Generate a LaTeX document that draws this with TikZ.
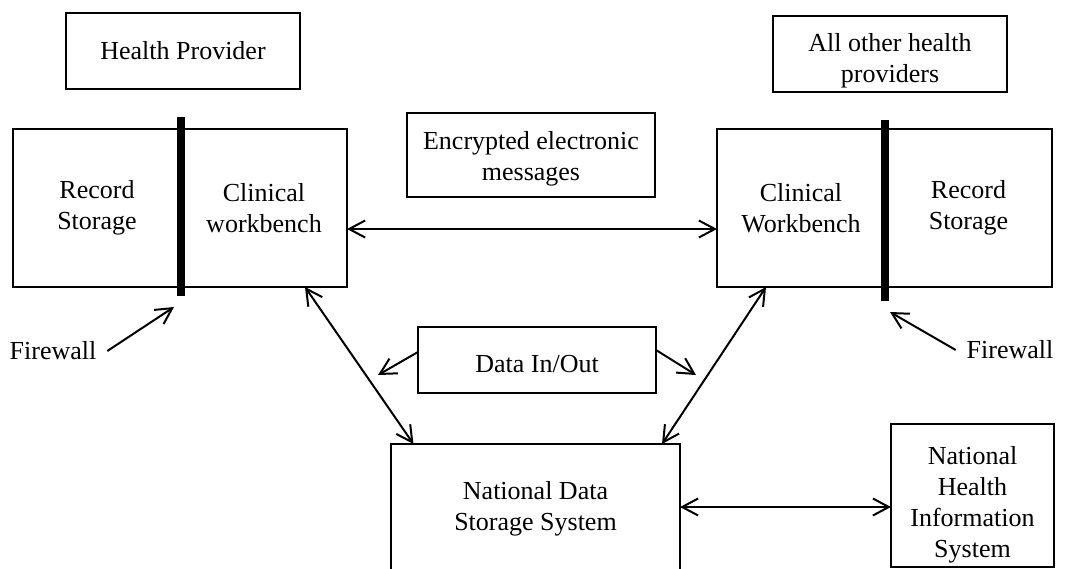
\documentclass[tikz,border=0pt]{standalone}
\usepackage{fontspec}
\setmainfont{Liberation Serif}
\usetikzlibrary{arrows.meta,positioning}

\begin{document}
\begin{tikzpicture}[x=1pt,y=-1pt,line width=2pt,
  box/.style={draw,line width=2pt,align=center,inner sep=0pt,outer sep=0pt,
    font=\fontsize{26}{31}\selectfont},
  txt/.style={align=center,inner sep=0pt,font=\fontsize{26}{31}\selectfont},
  wall/.style={line width=8pt},
  fwtext/.style={inner xsep=10pt,inner ysep=0pt,font=\fontsize{26}{31}\selectfont},
  >={Straight Barb[length=16pt,width=17pt]}]
\useasboundingbox (0,0) rectangle (1078,568);
\clip (0,0) rectangle (1078,568);

\node[box,minimum width=234pt,minimum height=76pt] (hp) at (183,51) {Health Provider};
\node[box,minimum width=234pt,minimum height=76pt,
  label={[txt,yshift=-7pt]center:All other health\\providers}] (others) at (890,54) {};
\node[box,minimum width=248pt,minimum height=84pt,
  label={[txt,yshift=-4pt]center:Encrypted electronic\\messages}] (crypt) at (531,155) {};

% health provider
\node[box,minimum width=168pt,minimum height=158pt] (storeL) at (97,208) {Record\\Storage};
\node[box,minimum width=166pt,minimum height=158pt,right=0pt of storeL] (benchL) {Clinical\\workbench};
\draw[wall] ([yshift=12pt]storeL.north east) -- ([yshift=-9pt]storeL.south east);

% all other providers
\node[box,minimum width=168pt,minimum height=158pt] (benchR) at (801,208) {Clinical\\Workbench};
\node[box,minimum width=167pt,minimum height=158pt,right=0pt of benchR] (storeR) {Record\\Storage};
\draw[wall] ([yshift=9pt]benchR.north east) -- ([yshift=-14pt]benchR.south east);

\node[box,minimum width=238pt,minimum height=66pt,
  label={[txt,yshift=-4pt]center:Data In/Out}] (dio) at (537,360) {};
\node[box,minimum width=289pt,minimum height=130pt] (ndss) at (535.5,509) {National Data\\Storage System};
\node[box,minimum width=163pt,minimum height=143pt,
  label={[txt,yshift=-9pt]center:National\\Health\\Information\\System}] (nhis) at (972.5,495.5) {};

\node[fwtext] (wallL) at (53,351) {Firewall};
\node[fwtext] (wallR) at (1010,350) {Firewall};
\coordinate (hitL) at (174,307);
\coordinate (hitR) at (890,312);
\coordinate (inL) at (378,375);
\coordinate (outR) at (696,375);

\path[<->]
([yshift=-21pt]benchL.east) edge ([yshift=-21pt]benchR.west)
([xshift=-42pt]benchL.south east) edge ([xshift=-122pt]ndss.north)
([xshift=49pt]benchR.south west) edge ([xshift=-18pt]ndss.north east)
([yshift=2pt]ndss.east) edge ([yshift=2pt]ndss.east -| nhis.west)
;
\path[->]
(wallL.east) edge (hitL)
(wallR.west) edge (hitR)
([yshift=8pt]dio.west) edge (inL)
([yshift=10pt]dio.east) edge (outR)
;
\end{tikzpicture}
\end{document}
